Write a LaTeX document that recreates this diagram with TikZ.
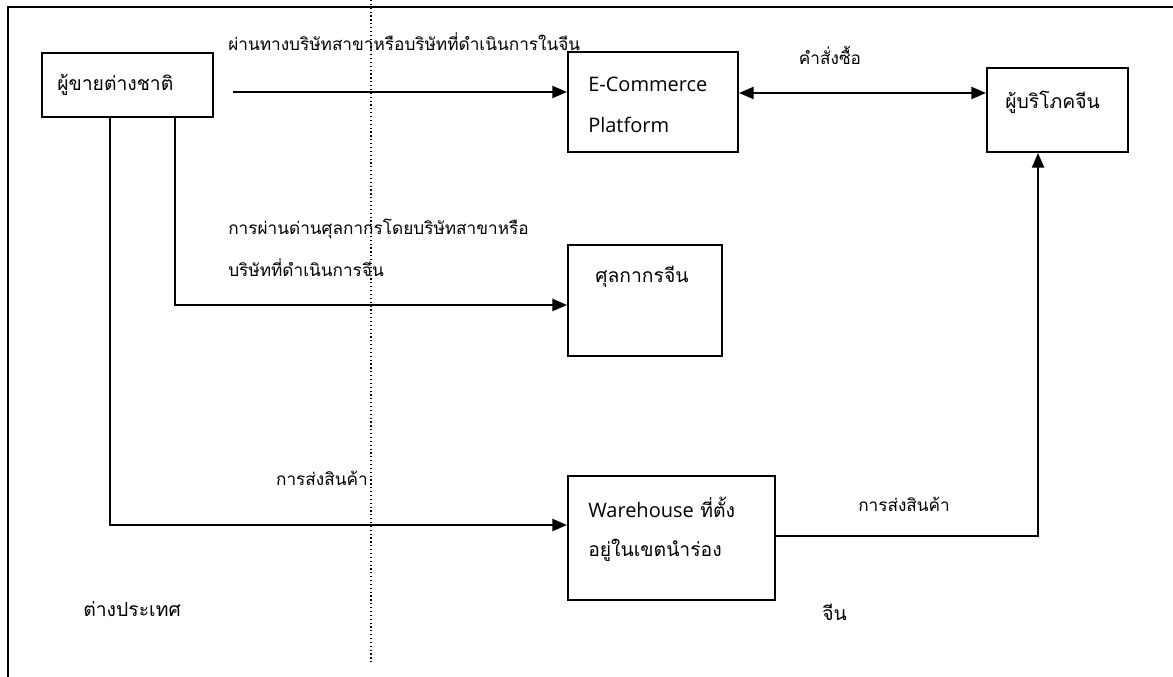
\documentclass[tikz,border=0pt]{standalone}
\usepackage{fontspec}
\newfontfamily\thaifont[Script=Thai]{Loma}
\newfontfamily\latfont{Open Sans}
\usetikzlibrary{arrows.meta}
\begin{document}
\begin{tikzpicture}[x=0.75pt,y=-0.75pt,
  box/.style={draw, line width=1.5pt, inner sep=0pt},
  txt/.style={inner sep=0pt, anchor=west, font=\thaifont\fontsize{14.5}{16}\selectfont},
  lat/.style={inner sep=0pt, anchor=west, font=\latfont\fontsize{15}{17}\selectfont},
  lbl/.style={inner sep=0pt, font=\thaifont\fontsize{12.9}{15}\selectfont},
  conn/.style={line width=1.7pt, -{Triangle[length=11pt,width=9pt]}},
  conn2/.style={line width=1.7pt, {Triangle[length=11pt,width=9pt]}-{Triangle[length=11pt,width=9pt]}},
  ]
\useasboundingbox (0,0) rectangle (1173,677);
\draw[line width=1.1pt] (8,677) -- (8,7) -- (1173,7);
\draw[dotted, line width=0.9pt] (371,0) -- (371,662);

% boxes
\node[box, minimum width=128.25pt, minimum height=48pt] (seller) at (127.5,85) {};
\node[box, minimum width=127.5pt, minimum height=75pt] (ecom) at (653,102) {};
\node[box, minimum width=105.75pt, minimum height=63pt] (cons) at (1057.5,110) {};
\node[box, minimum width=115.5pt, minimum height=83.25pt] (cust) at (645,300.5) {};
\node[box, minimum width=155.25pt, minimum height=93pt] (wh) at (671.5,538) {};

% box texts
\node[txt] (tseller) at (57,85) {ผู้ขายต่างชาติ};
\node[lat] (tecom1) at (588,84) {E-Commerce};
\node[lat] (tecom2) at (588,125) {Platform};
\node[txt] (tcons) at (1005,102) {ผู้บริโภคจีน};
\node[txt] (tcust) at (595,277) {ศุลกากรจีน};
\node[txt] (twh1) at (588,507) {{\latfont\fontsize{15}{17}\selectfont Warehouse} ที่ตั้ง};
\node[txt] (twh2) at (588,550) {อยู่ในเขตนำร่อง};

% labels
\node[lbl, anchor=west] (l1) at (228,42) {ผ่านทางบริษัทสาขาหรือบริษัทที่ดำเนินการในจีน};
\node[lbl] (l2) at (830,55) {คำสั่งซื้อ};
\node[lbl, anchor=west] (l3) at (228,229) {การผ่านด่านศุลกากรโดยบริษัทสาขาหรือ};
\node[lbl, anchor=west] (l4) at (228,268) {บริษัทที่ดำเนินการจีน};
\node[lbl, anchor=east] (l5) at (368,478) {การส่งสินค้า};
\node[lbl, anchor=west] (l6) at (858,504) {การส่งสินค้า};
\node[txt] (l7) at (83,609) {ต่างประเทศ};
\node[txt] (l8) at (822,612) {จีน};

% connectors
\coordinate (s1) at (233,92);
\draw[conn] (s1) -- (s1 -| ecom.west);
\coordinate (o1) at (850,93);
\draw[conn2] (o1 -| ecom.east) -- (o1 -| cons.west);
\coordinate (k1) at (175,305);
\draw[conn] (k1 |- seller.south) |- (k1 -| cust.west);
\coordinate (k2) at (110,525);
\draw[conn] (k2 |- seller.south) |- (k2 -| wh.west);
\coordinate (k3) at (1038,536);
\draw[conn] (k3 -| wh.east) -| (k3 |- cons.south);
\end{tikzpicture}
\end{document}
